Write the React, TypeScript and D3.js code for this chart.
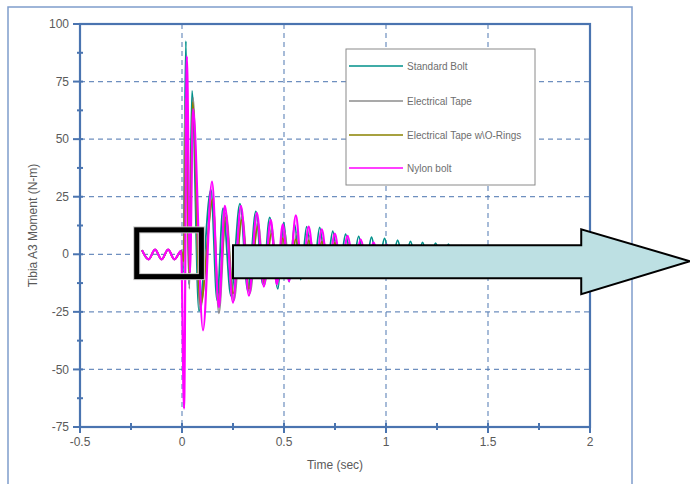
import React from "react";
import * as d3 from "d3";

type Pt = [number, number];

const preImpact: Pt[] = [
  [-0.196, 1.8], [-0.164, -2.2], [-0.132, 2.0], [-0.1, -2.2], [-0.068, 2.0], [-0.037, -2.2], [-0.004, 1.5],
];

const standardBolt: Pt[] = [
  ...preImpact,
  [0.006, -8], [0.019, 92.6], [0.034, -13], [0.049, 71], [0.083, -24.6], [0.142, 28], [0.172, -20],
  [0.201, 20], [0.24, -18], [0.284, 22], [0.323, -16], [0.362, 18.6], [0.396, -13], [0.43, 16],
  [0.47, -15], [0.499, 13.8], [0.525, -12], [0.552, 13], [0.582, -11], [0.611, 12], [0.643, -10],
  [0.675, 11.7], [0.707, -9], [0.739, 10], [0.77, -8.5], [0.802, 8.7], [0.834, -7.5], [0.866, 7.8],
  [0.898, -7], [0.929, 7.4], [0.961, -6.5], [0.993, 6.9], [1.025, -6], [1.057, 6.1], [1.088, -5.5],
  [1.12, 5.6], [1.15, -5], [1.179, 5.2], [1.211, -4.5], [1.243, 4.8], [1.275, -4.2], [1.306, 4.4],
  [1.338, -4], [1.37, 3.8], [1.402, -3.4], [1.434, 3.3], [1.465, -3], [1.497, 2.8], [1.528, -2.5],
  [1.56, 2.2], [1.59, -2], [1.62, 1.5], [1.66, 0],
];

const electricalTape: Pt[] = [
  ...preImpact,
  [0.008, -5], [0.015, 68], [0.036, -15], [0.054, 68], [0.088, -24], [0.15, 24], [0.181, -25.6],
  [0.215, 18], [0.255, -20], [0.294, 17], [0.333, -17], [0.372, 14], [0.406, -13], [0.44, 12],
  [0.47, -12], [0.503, 10], [0.53, -10], [0.562, 9], [0.594, -9], [0.626, 8], [0.658, -8], [0.69, 7],
  [0.722, -7], [0.753, 6], [0.785, -6], [0.817, 5], [0.849, -5], [0.88, 4.3], [0.912, -4], [0.944, 3.6],
  [0.976, -3.5], [1.008, 3], [1.04, -3], [1.07, 2.5], [1.1, -2.5], [1.13, 2], [1.165, -2], [1.2, 1.5],
  [1.25, -1.2], [1.3, 0.8], [1.35, 0],
];

const tapeORings: Pt[] = [
  ...preImpact,
  [0.008, -3], [0.02, 62], [0.036, -10], [0.052, 66], [0.09, -22], [0.152, 24], [0.178, -20],
  [0.215, 16], [0.25, -17], [0.294, 15], [0.328, -15], [0.372, 12], [0.4, -12], [0.44, 9],
  [0.465, -10], [0.494, 7], [0.525, -9], [0.558, 6.5], [0.59, -8], [0.621, 6], [0.653, -7],
  [0.685, 5.5], [0.717, -6], [0.749, 5], [0.78, -5], [0.812, 4], [0.844, -4], [0.876, 3],
  [0.908, -3.5], [0.94, 2.5], [0.97, -3], [1.0, 2], [1.05, -2], [1.1, 1.2], [1.15, -1], [1.2, 0.5], [1.25, 0],
];

const nylonBolt: Pt[] = [
  ...preImpact,
  [0.01, -67], [0.024, 86], [0.039, -8], [0.054, 63], [0.103, -33], [0.147, 31.6], [0.181, -23],
  [0.21, 21], [0.25, -21], [0.289, 21], [0.328, -18], [0.367, 18], [0.401, -14], [0.435, 15],
  [0.465, -13], [0.494, 13], [0.525, -11.7], [0.558, 16.9], [0.59, -10], [0.621, 12], [0.653, -9],
  [0.685, 10.8], [0.717, -8], [0.749, 9], [0.78, -7], [0.812, 8], [0.844, -6], [0.876, 6.5],
  [0.908, -5], [0.939, 5.2], [0.971, -4.3], [1.003, 4.2], [1.035, -3.6], [1.067, 3.5], [1.099, -3],
  [1.13, 3], [1.162, -2.6], [1.194, 2.5], [1.225, -2.2], [1.257, 2], [1.289, -1.7], [1.321, 1.5],
  [1.353, -1.2], [1.385, 1], [1.42, 0],
];

const seriesNames = ["Standard Bolt", "Electrical Tape", "Electrical Tape w\\O-Rings", "Nylon bolt"];
const seriesData = [standardBolt, electricalTape, tapeORings, nylonBolt];
const seriesColors = ["#00908a", "#8c8c8c", "#8a8200", "#ff00ff"];
const seriesWidths = [1.8, 1.8, 1.8, 2.2];

const xTicks = [-0.5, 0, 0.5, 1, 1.5, 2];
const xMinorTicks = [-0.25, 0.25, 0.75, 1.25, 1.75];
const yTicks = [-75, -50, -25, 0, 25, 50, 75, 100];
const yMinorTicks = [-62.5, -37.5, -12.5, 12.5, 37.5, 62.5, 87.5];

// annotation shapes in data units
const zoomBox = { t0: -0.222, t1: 0.095, v0: 10.6, v1: -9.7 };
const arrowPts: Pt[] = [
  [0.25, 3.9], [1.957, 3.9], [1.957, 10.8], [2.49, -3], [1.957, -17.3], [1.957, -10.4], [0.25, -10.4],
];

const AXIS = "#4a74b0";
const TXT = "#5a5a5a";
const FONT = "'Liberation Sans', Arial, sans-serif";

export default function App() {
  const x = d3.scaleLinear().domain([-0.5, 2]).range([80, 590]);
  const y = d3.scaleLinear().domain([-75, 100]).range([427, 24]);
  const line = d3
    .line<Pt>()
    .x((d) => x(d[0]))
    .y((d) => y(d[1]))
    .curve(d3.curveMonotoneX);

  const arrowPath = "M" + arrowPts.map((p) => `${x(p[0])},${y(p[1])}`).join("L") + "Z";

  const legendRows = [66, 101, 135, 168];

  return (
    <svg
      width={690}
      height={484}
      style={{ position: "absolute", left: 0, top: 0, background: "#fff" }}
      fontFamily={FONT}
    >
      <rect x={0} y={0} width={690} height={484} fill="#fff" />
      {/* outer frame */}
      <rect x={8} y={7} width={624} height={500} fill="none" stroke="#7f9dcc" strokeWidth={1.5} />

      {/* grid */}
      {xTicks.slice(1, -1).map((t) => (
        <line key={"gx" + t} x1={x(t)} x2={x(t)} y1={y(100)} y2={y(-75)} stroke={AXIS} strokeWidth={1.2} strokeDasharray="5,4" opacity={0.8} />
      ))}
      {yTicks.slice(1, -1).map((v) => (
        <line key={"gy" + v} x1={x(-0.5)} x2={x(2)} y1={y(v)} y2={y(v)} stroke={AXIS} strokeWidth={1.2} strokeDasharray="5,4" opacity={0.8} />
      ))}

      {/* series */}
      {seriesData.map((d, i) => (
        <path key={"s" + i} d={line(d) || ""} fill="none" stroke={seriesColors[i]} strokeWidth={seriesWidths[i]} strokeLinejoin="round" />
      ))}

      {/* plot frame */}
      <rect x={x(-0.5)} y={y(100)} width={x(2) - x(-0.5)} height={y(-75) - y(100)} fill="none" stroke={AXIS} strokeWidth={2.2} />

      {/* ticks */}
      {yTicks.map((v) => (
        <line key={"ty" + v} x1={x(-0.5) - 7} x2={x(-0.5) + 3} y1={y(v)} y2={y(v)} stroke={AXIS} strokeWidth={2} />
      ))}
      {yMinorTicks.map((v) => (
        <line key={"tym" + v} x1={x(-0.5) - 3} x2={x(-0.5) + 3} y1={y(v)} y2={y(v)} stroke={AXIS} strokeWidth={2} />
      ))}
      {xTicks.map((t) => (
        <line key={"tx" + t} x1={x(t)} x2={x(t)} y1={y(-75) - 4} y2={y(-75) + 6} stroke={AXIS} strokeWidth={2} />
      ))}
      {xMinorTicks.map((t) => (
        <line key={"txm" + t} x1={x(t)} x2={x(t)} y1={y(-75) - 4} y2={y(-75) + 3} stroke={AXIS} strokeWidth={2} />
      ))}

      {/* tick labels */}
      {yTicks.map((v) => (
        <text key={"ly" + v} x={x(-0.5) - 11} y={y(v)} dy="0.35em" textAnchor="end" fontSize={12} fill={TXT}>
          {String(v)}
        </text>
      ))}
      {xTicks.map((t) => (
        <text key={"lx" + t} x={x(t)} y={y(-75) + 19} textAnchor="middle" fontSize={12} fill={TXT}>
          {String(t)}
        </text>
      ))}

      {/* axis titles */}
      <text x={(x(-0.5) + x(2)) / 2} y={469} textAnchor="middle" fontSize={12} fill={TXT}>
        Time (sec)
      </text>
      <text
        transform={`translate(37,${(y(100) + y(-75)) / 2}) rotate(-90)`}
        textAnchor="middle"
        fontSize={12}
        fill={TXT}
      >
        Tibia A3 Moment (N-m)
      </text>

      {/* legend */}
      <rect x={346} y={49} width={189} height={136} fill="#fff" stroke="#8a8a8a" strokeWidth={1} />
      {seriesNames.map((n, i) => (
        <g key={"lg" + i}>
          <line x1={349} x2={403} y1={legendRows[i]} y2={legendRows[i]} stroke={seriesColors[i]} strokeWidth={1.3} />
          <text x={407} y={legendRows[i]} dy="0.35em" fontSize={10} fill="#6e6e6e">
            {n}
          </text>
        </g>
      ))}

      {/* zoom box */}
      <rect
        x={x(zoomBox.t0)}
        y={y(zoomBox.v0)}
        width={x(zoomBox.t1) - x(zoomBox.t0)}
        height={y(zoomBox.v1) - y(zoomBox.v0)}
        fill="none"
        stroke="#c8c8c8"
        strokeWidth={7}
      />
      <rect
        x={x(zoomBox.t0)}
        y={y(zoomBox.v0)}
        width={x(zoomBox.t1) - x(zoomBox.t0)}
        height={y(zoomBox.v1) - y(zoomBox.v0)}
        fill="none"
        stroke="#000"
        strokeWidth={5}
      />

      {/* arrow */}
      <path d={arrowPath} fill="#bde0e3" stroke="#000" strokeWidth={2} strokeLinejoin="miter" />
    </svg>
  );
}
